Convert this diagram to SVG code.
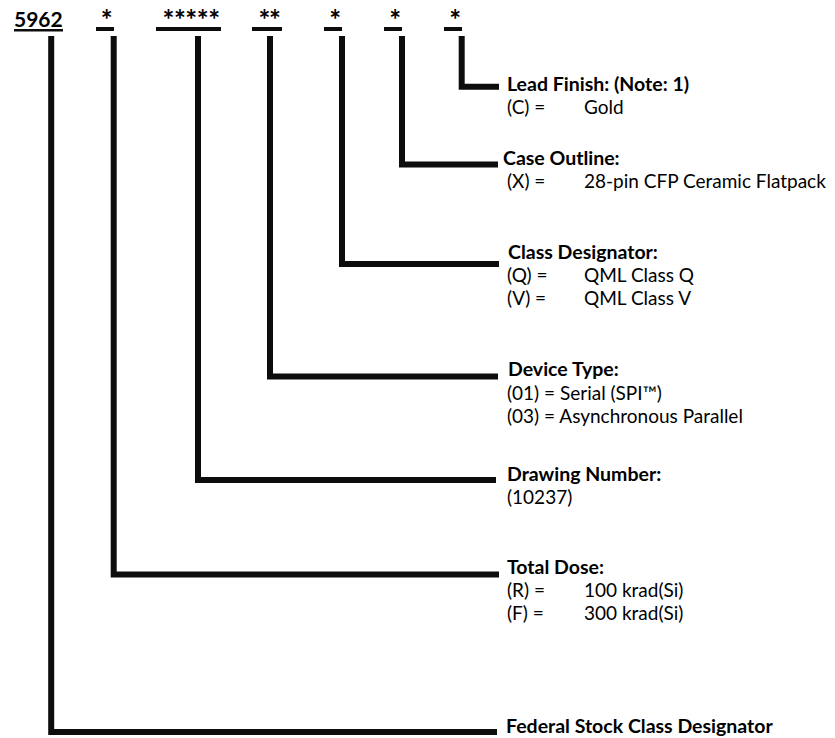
<svg xmlns="http://www.w3.org/2000/svg" width="835" height="738" viewBox="0 0 835 738">
<style>
  .t { font-family: Lato, "Open Sans", "Liberation Sans", sans-serif; font-size: 19px; fill: #000; }
  .b { font-weight: bold; font-size: 19.5px; }
  .code { font-family: Lato, "Liberation Sans", sans-serif; font-weight: bold; font-size: 21px; fill: #000; }
  .star { font-family: Lato, "Liberation Sans", sans-serif; font-weight: bold; font-size: 28px; fill: #000; text-anchor: middle; }
  .ul { fill: #0d0d0d; }
  .conn path { fill: none; stroke: #0d0d0d; stroke-width: 6; stroke-linejoin: miter; stroke-linecap: butt; }
</style>
<rect width="835" height="738" fill="#fff"/>

<g id="code-5962">
  <text class="code" x="14" y="27">5962</text>
  <rect class="ul" x="14" y="29" width="49" height="2.5"/>
</g>
<g id="code-total-dose">
  <text class="star" x="106.7" y="30">*</text>
  <rect class="ul" x="96" y="27" width="18" height="4"/>
</g>
<g id="code-drawing-number">
  <text class="star" x="168.4 179.9 191.3 202.8 214.2" y="30">*****</text>
  <rect class="ul" x="156" y="27" width="65" height="4"/>
</g>
<g id="code-device-type">
  <text class="star" x="264.5 275" y="30">**</text>
  <rect class="ul" x="252" y="27" width="30" height="4"/>
</g>
<g id="code-class">
  <text class="star" x="335.3" y="30">*</text>
  <rect class="ul" x="324" y="27" width="18" height="4"/>
</g>
<g id="code-case">
  <text class="star" x="395.3" y="30">*</text>
  <rect class="ul" x="384" y="27" width="18" height="4"/>
</g>
<g id="code-lead">
  <text class="star" x="455.3" y="30">*</text>
  <rect class="ul" x="444" y="27" width="18" height="4"/>
</g>

<g id="connectors" class="conn">
  <path d="M461.7 36 V86.7 H499"/>
  <path d="M402 36 V164.5 H498"/>
  <path d="M342 36 V264 H499"/>
  <path d="M270 36 V376.5 H498"/>
  <path d="M198 36 V480 H496"/>
  <path d="M113.7 36 V574.5 H499"/>
  <path d="M51.2 36 V732 H497"/>
</g>

<g id="lead-finish">
  <text class="t b" x="507" y="91">Lead Finish: (Note: 1)</text>
  <text class="t" x="507" y="114">(C) =</text>
  <text class="t" x="584" y="114">Gold</text>
</g>
<g id="case-outline">
  <text class="t b" x="503" y="165">Case Outline:</text>
  <text class="t" x="507" y="188">(X) =</text>
  <text class="t" x="584" y="188">28-pin CFP Ceramic Flatpack</text>
</g>
<g id="class-designator">
  <text class="t b" x="508" y="259">Class Designator:</text>
  <text class="t" x="507" y="282">(Q) =</text>
  <text class="t" x="584" y="282">QML Class Q</text>
  <text class="t" x="507" y="305">(V) =</text>
  <text class="t" x="584" y="305">QML Class V</text>
</g>
<g id="device-type">
  <text class="t b" x="508" y="376">Device Type:</text>
  <text class="t" x="507" y="400">(01) = Serial (SPI™)</text>
  <text class="t" x="507" y="423">(03) = Asynchronous Parallel</text>
</g>
<g id="drawing-number">
  <text class="t b" x="507" y="481">Drawing Number:</text>
  <text class="t" x="507" y="504">(10237)</text>
</g>
<g id="total-dose">
  <text class="t b" x="507" y="574">Total Dose:</text>
  <text class="t" x="507" y="597">(R) =</text>
  <text class="t" x="584" y="597">100 krad(Si)</text>
  <text class="t" x="507" y="620">(F) =</text>
  <text class="t" x="584" y="620">300 krad(Si)</text>
</g>
<g id="federal-stock-class">
  <text class="t b" x="506" y="733">Federal Stock Class Designator</text>
</g>
</svg>
